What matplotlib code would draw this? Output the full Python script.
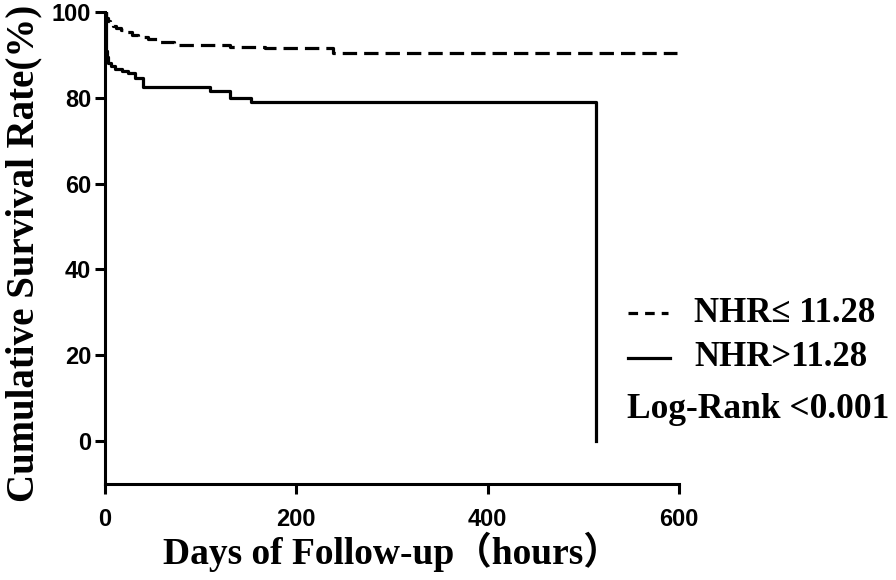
import matplotlib
matplotlib.use("Agg")
import matplotlib.pyplot as plt
from matplotlib.lines import Line2D

# Kaplan-Meier step data (days, survival %)
low_days = [0, 1, 3, 5, 8, 12, 17, 22, 28, 35, 45, 58, 72, 131, 167, 238, 598]
low_surv = [100, 98.6, 97.9, 97.4, 96.8, 96.2, 95.8, 95.3, 94.7, 94.2, 93.7, 93.1, 92.3, 91.9, 91.6, 90.5, 90.5]

high_days = [0, 1, 1.5, 2, 3, 6, 10, 18, 24, 31, 40, 110, 131, 153, 513, 513]
high_surv = [100, 94, 91, 89.5, 88.0, 87.3, 86.6, 86.2, 85.7, 84.7, 82.6, 81.7, 79.9, 79.0, 79.0, 0]

x_ticks = [0, 200, 400, 600]
y_ticks = [0, 20, 40, 60, 80, 100]

label_low = "NHR\u2264 11.28"
label_high = "NHR>11.28"
note = "Log-Rank <0.001"

fig = plt.figure(figsize=(8.96, 5.8), dpi=100)
ax = fig.add_axes([105/896, 1-484/580, (679-105)/896, (484-12)/580])

ax.step(low_days, low_surv, where="post", color="black", lw=2.3,
        linestyle=(0, (4.5, 2.2)))
ax.step(high_days, high_surv, where="post", color="black", lw=2.3)

ax.set_xlim(0, 600)
ax.set_ylim(-10, 100)
ax.set_xticks(x_ticks)
ax.set_yticks(y_ticks)
for s in ["top", "right"]:
    ax.spines[s].set_visible(False)
for s in ["left", "bottom"]:
    ax.spines[s].set_linewidth(2.2)
ax.tick_params(direction="out", length=7, width=2.2)
ax.tick_params(axis="x", pad=10)
ax.tick_params(axis="y", pad=3)
for lab in ax.get_xticklabels() + ax.get_yticklabels():
    lab.set_fontfamily("Liberation Sans")
    lab.set_fontweight("bold")
    lab.set_fontsize(17)

serif = ["Liberation Serif", "Noto Sans CJK SC"]
fig.text(392/896, 1-552/580, "Days of Follow-up\uff08hours\uff09", ha="center", va="center",
         family=serif, fontweight="bold", fontsize=27)
fig.text(24/896, 1-253/580, "Cumulative Survival Rate(%)", ha="center", va="center",
         rotation=90, family=serif, fontweight="bold", fontsize=28)

# legend handles
fig.add_artist(Line2D([628/896, 668/896], [1-313/580, 1-313/580], color="black", lw=2.3,
                      linestyle=(0, (3, 2.2))))
fig.add_artist(Line2D([628/896, 670/896], [1-358/580, 1-358/580], color="black", lw=2.3))
fig.text(694/896, 1-313/580, label_low, ha="left", va="center", family=serif,
         fontweight="bold", fontsize=25)
fig.text(694/896, 1-358/580, label_high, ha="left", va="center", family=serif,
         fontweight="bold", fontsize=25)
fig.text(627/896, 1-409/580, note, ha="left", va="center", family=serif,
         fontweight="bold", fontsize=25.5)

fig.savefig("out.png", dpi=100)
